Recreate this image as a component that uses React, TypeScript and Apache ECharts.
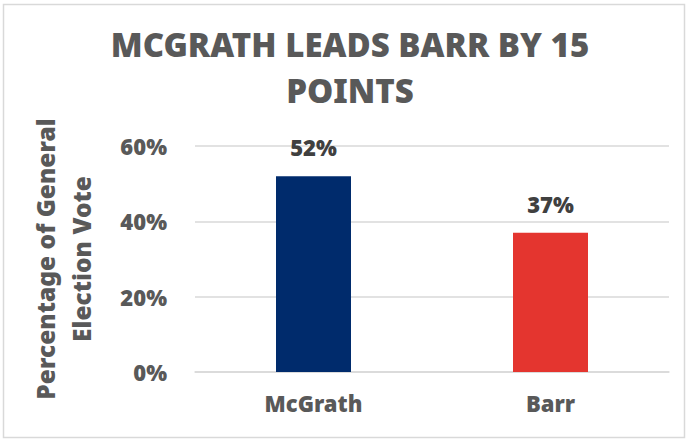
import React, { useEffect, useRef } from "react";
import * as echarts from "echarts";

const categories = ["McGrath", "Barr"];
const values = [52, 37];
const barColors = ["#002B6C", "#E4352F"];
const yTicks = [0, 20, 40, 60];
const titleText = "MCGRATH LEADS BARR BY 15\nPOINTS";
const yAxisName = "Percentage of General\nElection Vote";

const FONT = "'Noto Sans', 'Open Sans', sans-serif";
const W = 900;
const GRAY = "#595959";

export default function App() {
  const ref = useRef<HTMLDivElement>(null);
  useEffect(() => {
    document.body.style.margin = "0";
    const chart = echarts.init(ref.current!, null, { renderer: "svg" });
    chart.setOption({
      animation: false,
      backgroundColor: "#ffffff",
      title: {
        text: titleText,
        left: 350,
        textAlign: "center",
        top: 21,
        padding: 0,
        textStyle: {
          fontFamily: FONT,
          fontWeight: W,
          fontSize: 33,
          color: GRAY,
          lineHeight: 46,
        },
      },
      graphic: [
        {
          type: "rect",
          shape: { x: 3.5, y: 4.5, width: 681, height: 433 },
          style: { fill: "none", stroke: "#D9D9D9", lineWidth: 1.5 },
          silent: true,
        },
      ],
      grid: { left: 195, right: 19, top: 146, bottom: 68 },
      xAxis: {
        type: "category",
        data: categories,
        axisLine: { show: true, lineStyle: { color: "#D9D9D9", width: 1.5 } },
        axisTick: { show: false },
        axisLabel: {
          fontFamily: FONT,
          fontWeight: W,
          fontSize: 22,
          color: GRAY,
          margin: 20,
        },
      },
      yAxis: {
        type: "value",
        min: yTicks[0],
        max: yTicks[yTicks.length - 1],
        interval: yTicks[1] - yTicks[0],
        name: yAxisName,
        nameLocation: "middle",
        nameGap: 96,
        nameTextStyle: {
          fontFamily: FONT,
          fontWeight: W,
          fontSize: 24.5,
          color: GRAY,
          lineHeight: 36,
        },
        axisLine: { show: false },
        axisTick: { show: false },
        splitLine: { lineStyle: { color: "#D9D9D9", width: 1.5 } },
        axisLabel: {
          fontFamily: FONT,
          fontWeight: W,
          fontSize: 22,
          color: GRAY,
          margin: 28,
          formatter: (v: number) => v + "%",
        },
      },
      series: [
        {
          type: "bar",
          barWidth: 75,
          data: values.map((v, i) => ({ value: v, itemStyle: { color: barColors[i] } })),
          label: {
            show: true,
            position: "top",
            distance: 18,
            fontFamily: FONT,
            fontWeight: W,
            fontSize: 22,
            color: "#404040",
            formatter: (p: any) => p.value + "%",
          },
        },
      ],
    });
    return () => chart.dispose();
  }, []);
  return <div ref={ref} style={{ width: 688, height: 440 }} />;
}
